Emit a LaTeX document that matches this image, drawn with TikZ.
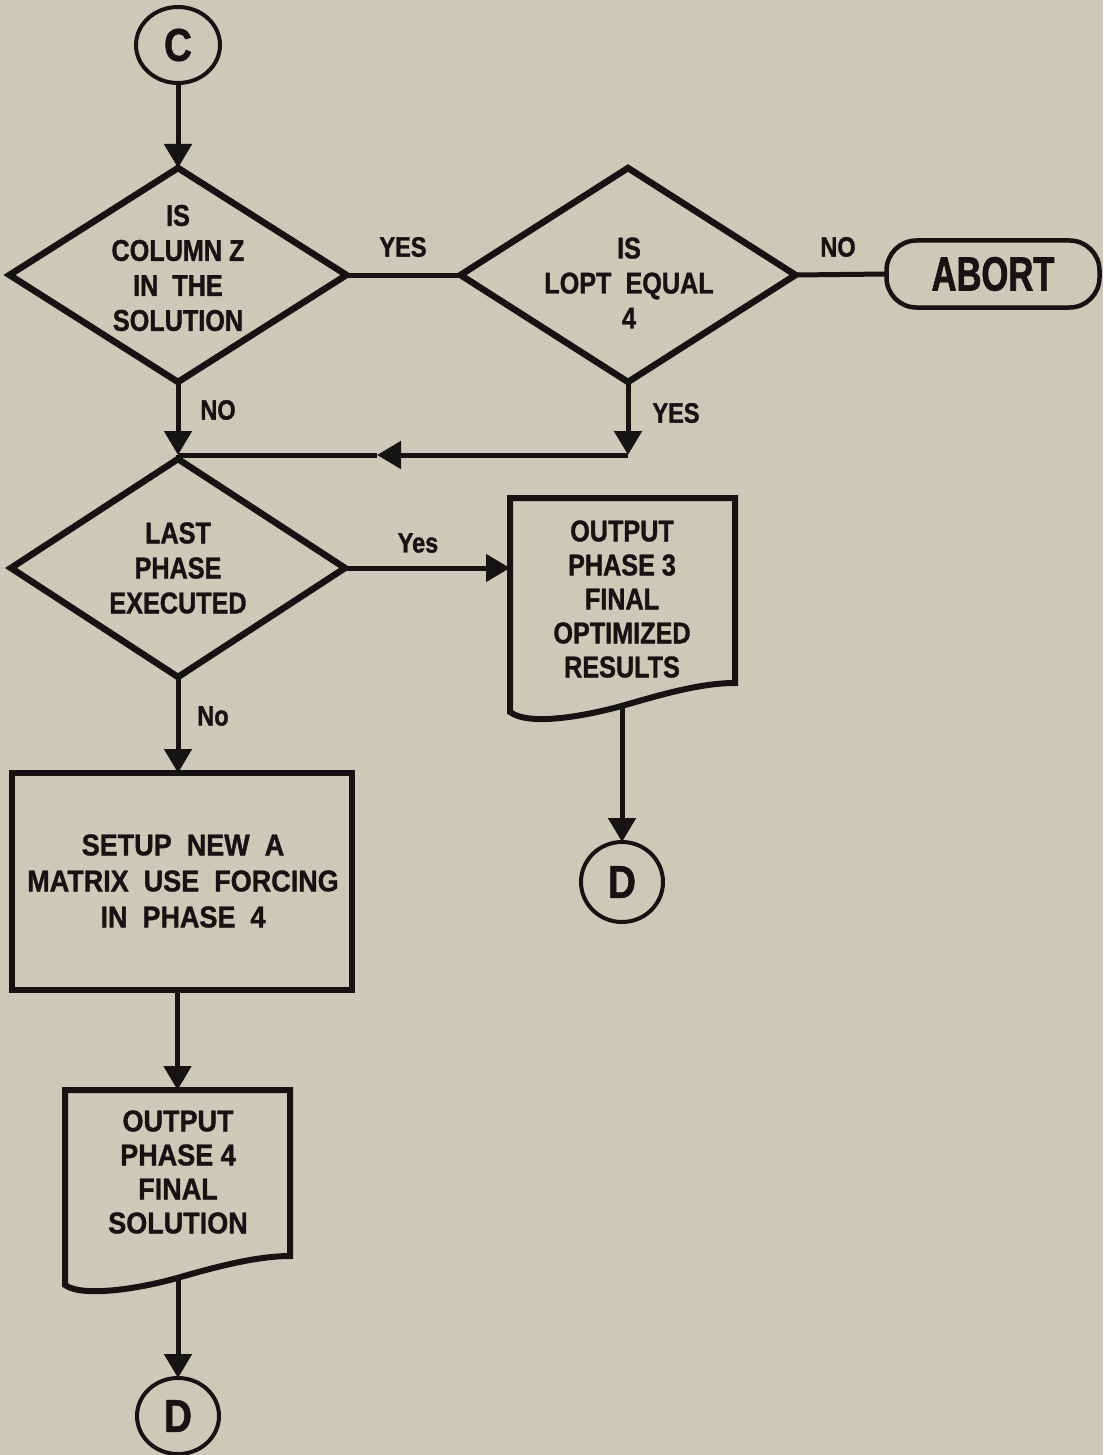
\documentclass[tikz,border=0pt]{standalone}
\usepackage{fontspec}
\newfontfamily\cond{Liberation Sans}[FakeStretch=0.84,FakeBold=1.2]
\newfontfamily\wide{Liberation Sans}[FakeStretch=0.9,FakeBold=1.2]
\newfontfamily\abortf{Liberation Sans}[FakeStretch=0.72,FakeBold=1.4]
\usetikzlibrary{shapes.geometric,arrows.meta,calc}
\definecolor{bgc}{RGB}{205,201,184}
\definecolor{ink}{RGB}{22,20,18}
\begin{document}
\begin{tikzpicture}[x=1pt,y=-1pt,
  font=\cond\bfseries\fontsize{30}{35}\selectfont,
  shp/.style={draw=ink,line width=6.5pt,inner sep=0pt,outer sep=0pt},
  dia/.style={shp,diamond},
  docbox/.style={draw=none,inner sep=0pt,outer sep=0pt},
  conc/.style={draw=ink,line width=4pt,ellipse,inner sep=0pt,outer sep=0pt,text=ink,
    font=\cond\bfseries\fontsize{46}{46}\selectfont},
  txt/.style={align=center,inner sep=0pt,text=ink},
  lbl/.style={inner sep=0pt,text=ink,font=\cond\bfseries\fontsize{28}{28}\selectfont},
  flow/.style={draw=ink,line width=5pt,-{Triangle[width=27pt,length=24pt]}},
  plain/.style={draw=ink,line width=5pt},
  docline/.style={draw=ink,line width=6pt,line join=miter}
]
\fill[bgc] (0,0) rectangle (1103,1455);
\useasboundingbox (0,0) rectangle (1103,1455);

% connector C
\node[conc,minimum width=84pt,minimum height=76pt] (cC) at (178,45) {C};

% decision 1
\node[dia,minimum width=337pt,minimum height=214pt] (d1) at (178,275) {};
\node[txt] (d1t) at (178,268) {IS\\COLUMN\ Z\\IN\ \ THE\\SOLUTION};

% decision 2
\node[dia,minimum width=335pt,minimum height=214pt] (d2) at (628,275) {};
\node[txt] (d2t) at (629,283) {IS\\LOPT\ \ EQUAL\\4};

% abort terminal
\node[shp,line width=4.5pt,rounded corners=30pt,minimum width=213pt,minimum height=67pt,
  text=ink,font=\abortf\bfseries\fontsize{48}{48}\selectfont] (ab) at (993,274) {ABORT};

% decision 3
\node[dia,minimum width=334pt,minimum height=218pt] (d3) at (178,568) {};
\node[txt] (d3t) at (178,568) {LAST\\PHASE\\EXECUTED};

% output phase 3 document
\node[docbox,minimum width=225pt,minimum height=214pt] (o3) at (622.5,605) {};
\draw[docline] (o3.north west) -- (o3.north east) -- ([yshift=29pt]o3.south east)
  .. controls +(-35pt,0pt) and +(35pt,10pt) .. ([xshift=115pt,yshift=7pt]o3.south west)
  .. controls +(-35pt,-10pt) and +(20pt,-15pt) .. (o3.south west) -- cycle;
\node[txt,font=\cond\bfseries\fontsize{30}{34}\selectfont] (o3t) at (622,599)
  {OUTPUT\\PHASE\ 3\\FINAL\\OPTIMIZED\\RESULTS};
\coordinate (o3b) at (622,706);
\node[conc,minimum width=82pt,minimum height=80pt] (dD1) at (622,882) {D};

% setup box
\node[shp,minimum width=340pt,minimum height=217pt] (setup) at (182,881.5) {};
\node[txt,font=\wide\bfseries\fontsize{30}{36}\selectfont] (setupt) at (183,881)
  {SETUP\ \ NEW\ \ A\\MATRIX\ \ USE\ \ FORCING\\IN\ \ PHASE\ \ 4};

% output phase 4 document
\node[docbox,minimum width=225pt,minimum height=195pt] (o4) at (177.5,1187.5) {};
\draw[docline] (o4.north west) -- (o4.north east) -- ([yshift=29pt]o4.south east)
  .. controls +(-35pt,0pt) and +(35pt,10pt) .. ([xshift=112pt,yshift=7pt]o4.south west)
  .. controls +(-35pt,-10pt) and +(18pt,-13pt) .. (o4.south west) -- cycle;
\node[txt,font=\wide\bfseries\fontsize{30}{34}\selectfont] (o4t) at (178,1172)
  {OUTPUT\\PHASE\ 4\\FINAL\\SOLUTION};
\coordinate (o4b) at (178,1278);
\node[conc,minimum width=82pt,minimum height=76pt] (dD2) at (178,1416) {D};

% junction points
\coordinate (J) at (178,455);
\coordinate (K) at (628,455);
\coordinate (M) at (377,455);

% connectors
\draw[flow] (cC.south) -- (d1.north);
\draw[plain] (d1.east) -- (d2.west);
\draw[plain] (d2.east) -- (ab.west);
\draw[flow] (d1.south) -- (J);
\draw[flow] (d2.south) -- (K);
\draw[flow] (K) -- (M);
\draw[plain] (M) -- (J);
\draw[plain] (J) -- (d3.north);
\draw[flow] (d3.east) -- (d3.east -| o3.west);
\draw[flow] (o3b) -- (dD1.north);
\draw[flow] (d3.south) -- (d3.south |- setup.north);
\draw[flow] (o4.north |- setup.south) -- (o4.north);
\draw[flow] (o4b) -- (dD2.north);

% labels
\node[lbl] (l1) at (403,247) {YES};
\node[lbl] (l2) at (838,247) {NO};
\node[lbl] (l3) at (218,410) {NO};
\node[lbl] (l4) at (676,413) {YES};
\node[lbl] (l5) at (418,543) {Yes};
\node[lbl] (l6) at (213,716) {No};
\end{tikzpicture}
\end{document}
